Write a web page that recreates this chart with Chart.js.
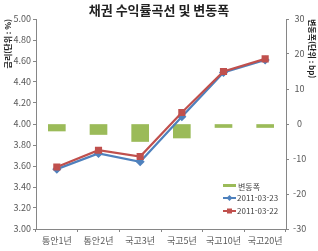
<!DOCTYPE html>
<html lang="ko">
<head>
    <meta charset="UTF-8">
    <title>채권 수익률곡선 및 변동폭</title>
    <script src="https://cdn.jsdelivr.net/npm/chart.js"></script>
    <style>
        body {
            margin: 0;
            background-color: #fff;
        }
        #wrap {
            width: 318px;
            height: 251px;
        }
    </style>
</head>
<body>
    <div id="wrap"><canvas id="yieldChart" width="318" height="251"></canvas></div>

    <script>
        // data
        var categories = ['통안1년', '통안2년', '국고3년', '국고5년', '국고10년', '국고20년'];
        var yield0323 = [3.57, 3.72, 3.64, 4.07, 4.49, 4.61];
        var yield0322 = [3.59, 3.75, 3.69, 4.11, 4.50, 4.62];
        var changeBp = [-2, -3, -5, -4, -1, -1];
        var seriesNames = ['변동폭', '2011-03-23', '2011-03-22'];

        var FONT = "'Noto Sans CJK KR', 'Noto Sans', sans-serif";
        var GREEN = '#9bbb59', BLUE = '#4f81bd', RED = '#c0504d';
        var TICK = '#595959', AXIS = '#868686';

        // legend drawn inside the plot, bottom right
        var boxLegend = {
            id: 'boxLegend',
            afterDraw: function(chart) {
                var ctx = chart.ctx;
                ctx.save();
                ctx.font = '8px ' + FONT;
                ctx.textBaseline = 'middle';
                var x = 223, y = 186;
                // bars
                ctx.fillStyle = GREEN;
                ctx.fillRect(x, y - 2, 13, 3);
                ctx.fillStyle = '#404040';
                ctx.fillText(seriesNames[0], x + 15, y + 1);
                // blue line
                y += 12;
                ctx.strokeStyle = BLUE;
                ctx.lineWidth = 2;
                ctx.beginPath(); ctx.moveTo(x, y); ctx.lineTo(x + 13, y); ctx.stroke();
                ctx.fillStyle = BLUE;
                ctx.beginPath();
                ctx.moveTo(x + 6.5, y - 3); ctx.lineTo(x + 9.5, y); ctx.lineTo(x + 6.5, y + 3); ctx.lineTo(x + 3.5, y);
                ctx.closePath(); ctx.fill();
                ctx.fillStyle = '#404040';
                ctx.fillText(seriesNames[1], x + 14, y);
                // red line
                y += 13;
                ctx.strokeStyle = RED;
                ctx.beginPath(); ctx.moveTo(x, y); ctx.lineTo(x + 13, y); ctx.stroke();
                ctx.fillStyle = RED;
                ctx.fillRect(x + 4, y - 2.5, 5, 5);
                ctx.fillStyle = '#404040';
                ctx.fillText(seriesNames[2], x + 14, y);
                ctx.restore();
            }
        };

        var ctx = document.getElementById('yieldChart').getContext('2d');
        var myChart = new Chart(ctx, {
            type: 'bar',
            data: {
                labels: categories,
                datasets: [{
                    type: 'bar',
                    label: seriesNames[0],
                    data: changeBp,
                    yAxisID: 'y1',
                    backgroundColor: GREEN,
                    barThickness: 17,
                    order: 3
                }, {
                    type: 'line',
                    label: seriesNames[1],
                    data: yield0323,
                    yAxisID: 'y',
                    borderColor: BLUE,
                    backgroundColor: BLUE,
                    borderWidth: 2.2,
                    pointStyle: 'rectRot',
                    pointRadius: 3,
                    tension: 0,
                    order: 2
                }, {
                    type: 'line',
                    label: seriesNames[2],
                    data: yield0322,
                    yAxisID: 'y',
                    borderColor: RED,
                    backgroundColor: RED,
                    borderWidth: 2.2,
                    pointStyle: 'rect',
                    pointRadius: 3.5,
                    tension: 0,
                    order: 1
                }]
            },
            options: {
                responsive: false,
                animation: false,
                layout: { padding: 0 },
                plugins: {
                    legend: { display: false },
                    tooltip: { enabled: false },
                    title: {
                        display: true,
                        text: '채권 수익률곡선 및 변동폭',
                        color: '#222',
                        font: { family: FONT, size: 13, weight: 'bold', lineHeight: 1.2 },
                        padding: { top: 2, bottom: 1.4 }
                    }
                },
                scales: {
                    x: {
                        grid: { display: true, drawOnChartArea: false, tickLength: 3, color: AXIS },
                        border: { color: AXIS },
                        ticks: { color: TICK, font: { family: FONT, size: 9 }, padding: 3, maxRotation: 0 },
                        afterFit: function(s) { s.height = 22; }
                    },
                    y: {
                        position: 'left',
                        min: 3.0,
                        max: 5.0,
                        grid: { display: true, drawOnChartArea: false, tickLength: 3, color: AXIS },
                        border: { color: AXIS },
                        ticks: {
                            stepSize: 0.2,
                            color: TICK,
                            padding: 2,
                            font: { family: FONT, size: 9 },
                            callback: function(v) { return v.toFixed(2); }
                        },
                        title: {
                            display: true,
                            text: '금리(단위 : %)',
                            align: 'end',
                            color: '#222',
                            padding: { top: 3, bottom: 0 },
                            font: { family: FONT, size: 8, weight: 'bold' }
                        },
                        afterFit: function(s) { s.width = 36; }
                    },
                    y1: {
                        position: 'right',
                        min: -30,
                        max: 30,
                        grid: { display: true, drawOnChartArea: false, tickLength: 3, color: AXIS },
                        border: { color: AXIS },
                        ticks: {
                            stepSize: 10,
                            color: TICK,
                            padding: 4,
                            crossAlign: 'center',
                            font: { family: FONT, size: 9 }
                        },
                        title: {
                            display: true,
                            text: '변동폭(단위 : bp)',
                            align: 'end',
                            color: '#222',
                            padding: { top: 1, bottom: 0 },
                            font: { family: FONT, size: 8, weight: 'bold' }
                        },
                        afterFit: function(s) { s.width = 32; }
                    }
                }
            },
            plugins: [boxLegend]
        });
    </script>
</body>
</html>
